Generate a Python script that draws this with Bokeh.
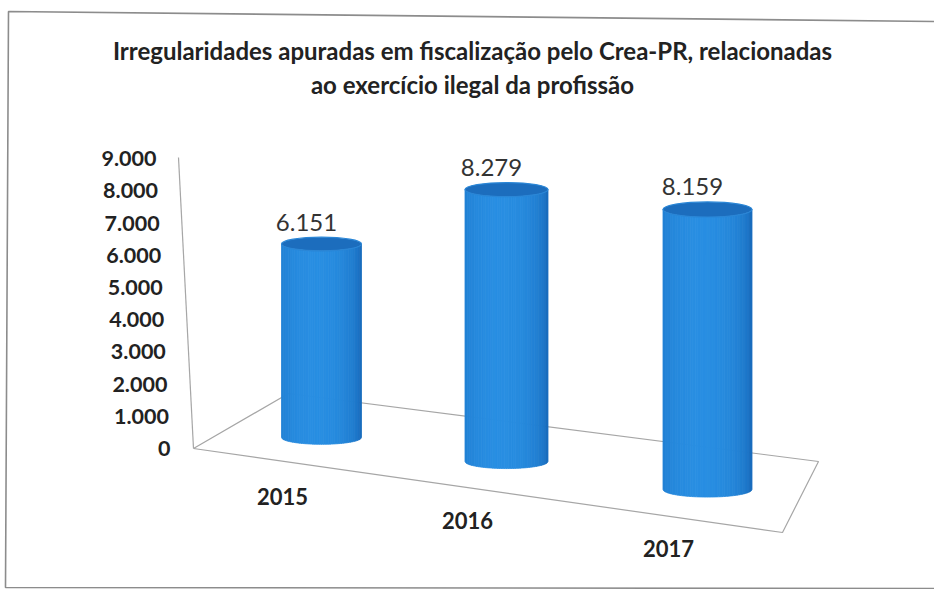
import numpy as np
from bokeh.plotting import figure
from bokeh.models import Range1d
from bokeh.core.properties import value
from bokeh.embed import file_html
from bokeh.resources import INLINE

# ---------------- data ----------------
years = ["2015", "2016", "2017"]
counts = [6151, 8279, 8159]
count_labels = ["6.151", "8.279", "8.159"]
y_ticks = [0, 1000, 2000, 3000, 4000, 5000, 6000, 7000, 8000, 9000]
y_tick_labels = ["0", "1.000", "2.000", "3.000", "4.000", "5.000",
                 "6.000", "7.000", "8.000", "9.000"]
title_lines = ["Irregularidades apuradas em fiscalização pelo Crea-PR, relacionadas",
               "ao exercício ilegal da profissão"]

# ---------------- layout (pseudo 3-D projection) ----------------
W, H = 934, 589
K = 0.0322          # screen px per value unit along the vertical axis
ZERO_PX = 448       # screen row of value 0 at the axis


def vy(ypx):
    """screen row (px from top) -> y value units"""
    return (ZERO_PX - ypx) / K


bar_cx = [321, 506, 707]          # bar centres (screen x)
bar_w = [80, 83, 89]              # bar widths (perspective)
bar_base_px = [437, 461, 489]     # floor row under each bar
persp = [0.977, 1.02, 1.066]      # perspective height factor

FONT = "Lato"
TXT = "#222222"

p = figure(width=W, height=H, x_range=Range1d(0, W), y_range=Range1d(vy(H), vy(0)),
           x_axis_type=None, y_axis_type=None, output_backend="svg",
           toolbar_location=None, min_border=0)
p.grid.visible = False
p.outline_line_color = None
p.background_fill_color = "#ffffff"
p.border_fill_color = "#ffffff"

# outer frame of the scanned chart
p.line([W, 8, 5, W], [vy(21), vy(11), vy(587), vy(588)], line_color="#8c8c8c", line_width=1.6)

# floor and vertical axis line
F, B, BR, FR = (193, 448), (288, 393), (818, 461), (782, 532)
floor = [F, B, BR, FR, F]
p.line([q[0] for q in floor], [vy(q[1]) for q in floor], line_color="#a6a6a6", line_width=1.2)
p.line([193, 178], [vy(448), vy(157)], line_color="#a6a6a6", line_width=1.2)


# y tick labels along the (slightly slanted) axis
def axis_x(v):
    return 193 - 14 * v / 9000.0


p.text(x=[axis_x(t) - 23 for t in y_ticks], y=y_ticks, text=y_tick_labels,
       text_font=value(FONT), text_font_style="bold", text_font_size="21.5px",
       text_color=TXT, text_align="right", text_baseline="middle")

# cylinders
dark = np.array([20, 98, 178])
light = np.array([40, 142, 226])
N = 36
for i, (c, cx, w, basepx, k) in enumerate(zip(counts, bar_cx, bar_w, bar_base_px, persp)):
    base_v = vy(basepx)
    top_v = base_v + c * k
    h_px = 0.17 * w
    hv = h_px / K
    xs_all, ys_all, cols = [], [], []
    edges = np.linspace(-1, 1, N + 1)
    for a, b in zip(edges[:-1], edges[1:]):
        uu = np.linspace(a, b, 4)
        arc = np.sqrt(np.clip(1 - uu ** 2, 0, 1)) * hv / 2
        xx = cx + uu * w / 2
        xs = list(xx) + list(xx[::-1])
        ys = list(top_v - arc) + list((base_v - arc)[::-1])
        um = (a + b) / 2
        s = np.clip(1 - ((um + 0.15) / 1.15) ** 2, 0, 1) ** 0.45
        col = dark + (light - dark) * s
        cols.append("#%02x%02x%02x" % tuple(int(round(z)) for z in col))
        xs_all.append(xs)
        ys_all.append(ys)
    p.patches(xs_all, ys_all, fill_color=cols, line_color=cols, line_width=0.8)
    p.ellipse(x=[cx], y=[top_v], width=[w], height=[hv], fill_color="#1c6dbd",
              line_color="#2a86d6", line_width=1.2)

# value labels above cylinders
lab_y = [vy(bp) + c * k + (0.17 * w / 2 + 15) / K
         for c, bp, k, w in zip(counts, bar_base_px, persp, bar_w)]
p.text(x=[cx - 15 for cx in bar_cx], y=lab_y, text=count_labels,
       text_font=value(FONT), text_font_size="24px", text_color="#333333",
       text_align="center", text_baseline="middle")

# category labels in front of the floor
p.text(x=[cx - 39 for cx in bar_cx], y=[vy(bp + 59) for bp in bar_base_px], text=years,
       text_font=value(FONT), text_font_style="bold", text_font_size="22px",
       text_color=TXT, text_align="center", text_baseline="middle")

# title
p.text(x=[472, 472], y=[vy(50), vy(84)], text=title_lines,
       text_font=value(FONT), text_font_style="bold", text_font_size="24px",
       text_color=TXT, text_align="center", text_baseline="middle")

open("out.html", "w").write(file_html(p, INLINE))
